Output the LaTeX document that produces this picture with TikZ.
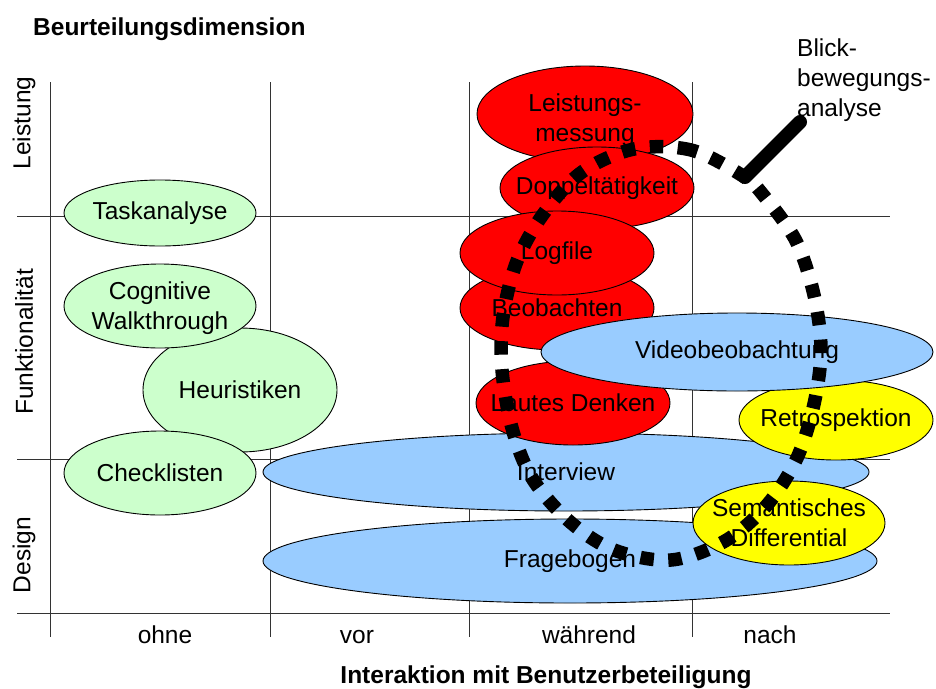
\documentclass[tikz,border=0pt]{standalone}
\usepackage{fontspec}
\setmainfont{Liberation Sans}
\usetikzlibrary{shapes.geometric}
\definecolor{grn}{HTML}{CCFFCC}
\definecolor{blu}{HTML}{99CCFF}
\definecolor{rd}{HTML}{FF0000}
\definecolor{yel}{HTML}{FFFF00}
\begin{document}
\begin{tikzpicture}[x=1pt,y=-1pt,
  txt/.style={font=\fontsize{24.5}{30}\selectfont, align=center, inner sep=0pt, text=black},
  btxt/.style={font=\fontsize{24.5}{30}\selectfont\bfseries, inner sep=0pt, text=black},
  ov/.style n args={3}{ellipse, draw=black, line width=0.9pt, inner sep=0pt, fill=#1, minimum width=#2, minimum height=#3},
  gridline/.style={draw=black!80, line width=1pt},
  loopline/.style={draw=black, line width=13.5pt, dash pattern=on 13.5pt off 14.5pt},
  pointer/.style={draw=black, line width=14pt, line cap=round}]
\useasboundingbox (0,0) rectangle (936,688);
\fill[white] (0,0) rectangle (936,688);

% grid
\foreach \gx in {50,270,469,692} \draw[gridline] (\gx,82) -- (\gx,637);
\foreach \gy in {216,459,613} \draw[gridline] (17,\gy) -- (890,\gy);

% titles and axis labels
\node[btxt, anchor=base west] (title) at (33,35) {Beurteilungsdimension};
\node[btxt, anchor=base] (xtitle) at (546,683) {Interaktion mit Benutzerbeteiligung};
\node[txt, rotate=90] (yleist) at (24,123) {Leistung};
\node[txt, rotate=90] (yfunk) at (24,342) {Funktionalität};
\node[txt, rotate=90] (ydes) at (24,555) {Design};
\node[txt, anchor=base] (xohne) at (165,643) {ohne};
\node[txt, anchor=base] (xvor) at (357,643) {vor};
\node[txt, anchor=base] (xwaehr) at (589,643) {während};
\node[txt, anchor=base] (xnach) at (770,643) {nach};

% green
\node[ov={grn}{194pt}{124pt}, label={[txt]center:Heuristiken}] (heur) at (240,390) {};
\node[ov={grn}{192pt}{66pt}, label={[txt]center:Taskanalyse}] (task) at (160,213) {};
\node[ov={grn}{192pt}{84pt}, label={[txt, yshift=-2pt]center:{Cognitive\\Walkthrough}}] (cog) at (160,306) {};
\node[ov={grn}{192pt}{84pt}, label={[txt]center:Checklisten}] (check) at (160,473) {};

% blue lower
\node[ov={blu}{606pt}{78pt}, label={[txt]center:Interview}] (inter) at (566,472) {};
\node[ov={blu}{614pt}{84pt}, label={[txt]center:Fragebogen}] (frage) at (570,561) {};

% red
\node[ov={rd}{216pt}{96pt}, label={[txt, yshift=-6pt]center:{Leistungs-\\messung}}] (leist) at (585,114) {};
\node[ov={rd}{194pt}{82pt}, label={[txt]center:Doppeltätigkeit}] (dopp) at (597,188) {};
\node[ov={rd}{194pt}{84pt}, label={[txt]center:Beobachten}] (beob) at (557,308) {};
\node[ov={rd}{194pt}{84pt}, label={[txt]center:Logfile}] (logf) at (557,253) {};
\node[ov={rd}{194pt}{84pt}, label={[txt]center:Lautes Denken}] (laut) at (573,403) {};

% yellow / blue upper
\node[ov={yel}{194pt}{80pt}, label={[txt]center:Retrospektion}] (retro) at (836,420) {};
\node[ov={blu}{392pt}{78pt}, label={[txt]center:Videobeobachtung}] (video) at (737,352) {};
\node[ov={yel}{192pt}{84pt}, label={[txt]center:{Semantisches\\Differential}}] (sem) at (789,523) {};

% Blickbewegungsanalyse
\node[txt, align=left, anchor=north west] (blick) at (797,39) {Blick-\\bewegungs-\\analyse};
\coordinate (ptrstart) at (745,177);
\coordinate (ptrend) at (800,122);
\draw[loopline] plot[smooth cycle, tension=0.55] coordinates {
 (743,176) (691,150) (634,149) (582,172) (544,213) (517,261) (503,317)
 (502,370) (512,428) (532,478) (569,521) (614,550) (671,560) (725,541)
 (767,505) (797,458) (814,404) (821,350) (814,295) (796,241) (764,196)};
\draw[pointer] (ptrstart) -- (ptrend);
\end{tikzpicture}
\end{document}
